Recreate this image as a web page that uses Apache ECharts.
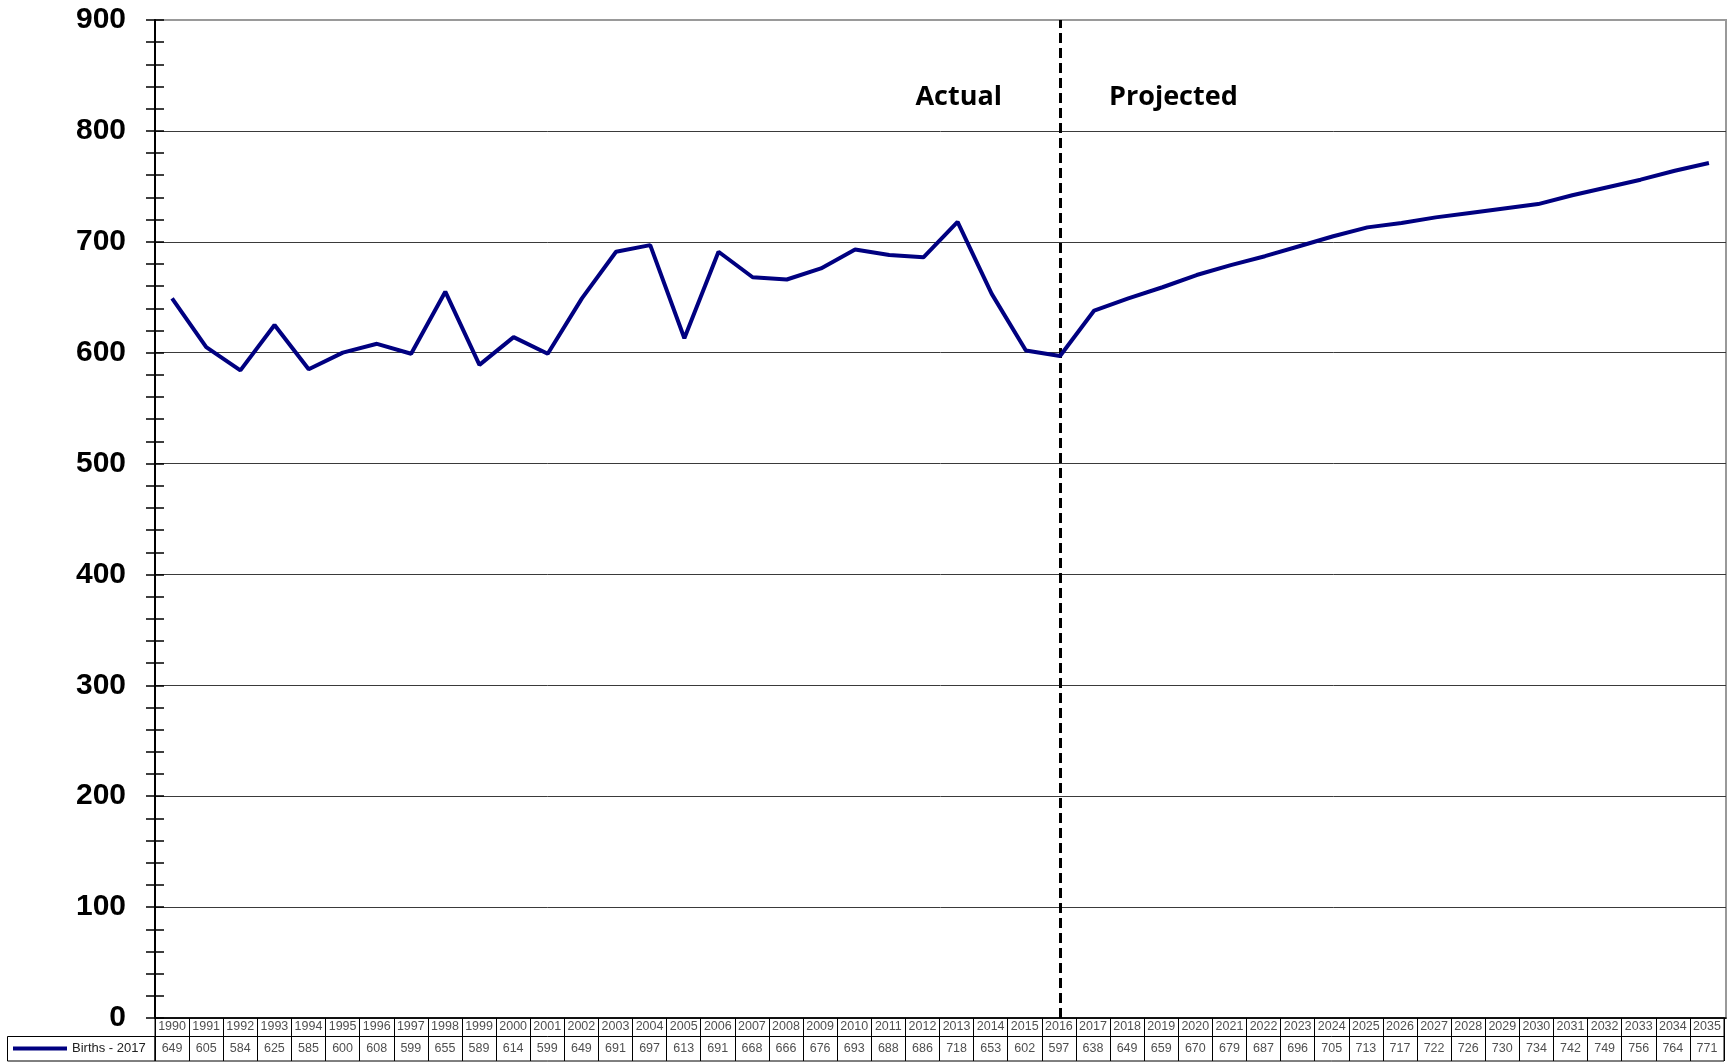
<!DOCTYPE html>
<html>
<head>
<meta charset="utf-8">
<script src="https://cdn.jsdelivr.net/npm/echarts@6/dist/echarts.min.js"></script>
<style>
html,body{margin:0;padding:0;background:#fff;}
#chart{width:1731px;height:1062px;}
</style>
</head>
<body>
<div id="chart"></div>
<script>
const years = ['1990','1991','1992','1993','1994','1995','1996','1997','1998','1999','2000','2001','2002','2003','2004','2005','2006','2007','2008','2009','2010','2011','2012','2013','2014','2015','2016','2017','2018','2019','2020','2021','2022','2023','2024','2025','2026','2027','2028','2029','2030','2031','2032','2033','2034','2035'];
const births = [649,605,584,625,585,600,608,599,655,589,614,599,649,691,697,613,691,668,666,676,693,688,686,718,653,602,597,638,649,659,670,679,687,696,705,713,717,722,726,730,734,742,749,756,764,771];
const seriesName = 'Births - 2017';
const dividerYear = '2016';
const yTicks = [0,100,200,300,400,500,600,700,800,900];

const chart = echarts.init(document.getElementById('chart'));
const gridColors = yTicks.map((t,i)=> i === yTicks.length-1 ? '#9a9a9a' : '#3a3a3a');

const option = {
  animation: false,
  backgroundColor: '#fff',
  grid: [
    {left: 155, right: 5, top: 20, bottom: 44, show: true, borderColor: '#999', borderWidth: 2},
    {left: 155, right: 7, top: 1018, height: 43, show: true, borderColor: '#000', borderWidth: 1}
  ],
  xAxis: [
    {type: 'category', gridIndex: 0, data: years, boundaryGap: true,
     axisLine: {show: true, lineStyle: {color: '#000', width: 1.5}},
     axisTick: {show: false}, axisLabel: {show: false}, splitLine: {show: false}},
    {type: 'category', gridIndex: 1, data: years, boundaryGap: true,
     axisLine: {show: false}, axisTick: {show: false}, axisLabel: {show: false},
     splitLine: {show: true, interval: 0, lineStyle: {color: '#000', width: 1}}}
  ],
  yAxis: [
    {type: 'value', gridIndex: 0, min: 0, max: 900, interval: 100,
     axisLine: {show: true, lineStyle: {color: '#000', width: 2}},
     axisTick: {show: true, inside: false, length: 9, lineStyle: {color: '#000', width: 1.5}},
     minorTick: {show: true, splitNumber: 5, length: 9, lineStyle: {color: '#000', width: 1.5}},
     axisLabel: {show: true, margin: 29, fontFamily: 'Liberation Sans, Arial', fontWeight: 'bold', fontSize: 30, color: '#000'},
     splitLine: {show: true, lineStyle: {color: gridColors, width: 1}}},
    {type: 'value', gridIndex: 0, min: 0, max: 900, interval: 100, position: 'left', offset: 0,
     axisLine: {show: false},
     axisTick: {show: true, inside: true, length: 9, lineStyle: {color: '#000', width: 1.5}},
     minorTick: {show: true, splitNumber: 5, length: 9, lineStyle: {color: '#000', width: 1.5}},
     axisLabel: {show: false}, splitLine: {show: false}},
    {type: 'value', gridIndex: 1, min: 0, max: 43,
     axisLine: {show: false}, axisTick: {show: false}, axisLabel: {show: false}, splitLine: {show: false}}
  ],
  legend: {
    show: true, left: 13, top: 1042, padding: 0, icon: 'rect', itemWidth: 54, itemHeight: 4, itemGap: 5,
    data: [seriesName],
    textStyle: {fontFamily: 'Liberation Sans, Arial', fontSize: 13, color: '#222'}
  },
  series: [
    {name: seriesName, type: 'line', xAxisIndex: 0, yAxisIndex: 0, data: births,
     showSymbol: false, symbol: 'none', smooth: false,
     lineStyle: {color: '#000080', width: 4}, itemStyle: {color: '#000080'},
     z: 5,
     markLine: {silent: true, symbol: ['none','none'], label: {show: false},
       lineStyle: {color: '#000', type: [10,5], width: 3},
       data: [{xAxis: dividerYear}]}
    },
    {name: 'yearRow', type: 'scatter', xAxisIndex: 1, yAxisIndex: 2, silent: true,
     symbolSize: 1, itemStyle: {color: 'transparent'},
     data: years.map(y => [y, 34]),
     label: {show: true, position: 'inside', formatter: p => years[p.dataIndex],
       fontFamily: 'Liberation Sans, Arial', fontSize: 12.5, color: '#222'},
     markLine: {silent: true, symbol: ['none','none'], label: {show: false},
       lineStyle: {color: '#000', type: 'solid', width: 1}, data: [{yAxis: 25}]}
    },
    {name: 'valueRow', type: 'scatter', xAxisIndex: 1, yAxisIndex: 2, silent: true,
     symbolSize: 1, itemStyle: {color: 'transparent'},
     data: births.map((v,i) => [years[i], 12.5, v]),
     label: {show: true, position: 'inside', formatter: p => String(p.value[2]),
       fontFamily: 'Liberation Sans, Arial', fontSize: 12.5, color: '#222'}
    }
  ],
  graphic: [
    {type: 'rect', shape: {x: 7.5, y: 1036.5, width: 147.5, height: 24.5},
     style: {fill: 'none', stroke: '#000', lineWidth: 1}, silent: true},
    {type: 'text', x: 1002, y: 97, style: {text: 'Actual', align: 'right', verticalAlign: 'middle',
      font: 'bold 27px "Open Sans"', fill: '#000'}},
    {type: 'text', x: 1109, y: 97, style: {text: 'Projected', align: 'left', verticalAlign: 'middle',
      font: 'bold 27px "Open Sans"', fill: '#000'}}
  ]
};
chart.setOption(option);
</script>
</body>
</html>
